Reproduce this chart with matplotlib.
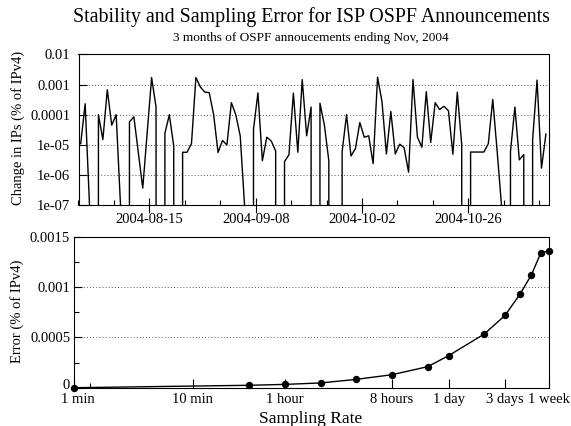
import numpy as np
import pandas as pd
import matplotlib
matplotlib.use('Agg')
import matplotlib.pyplot as plt
import matplotlib.dates as mdates
import matplotlib.transforms as mtransforms
from matplotlib.ticker import FixedLocator, NullFormatter, LogLocator

plt.rcParams['font.family'] = ['Liberation Serif', 'DejaVu Serif']

# -- top panel: daily change in announced IPs (% of IPv4), 0 = no change --
start_day = '2004-07-30 12:00'
n_days = 106
change = [
    1.1e-5, 2.3e-4, 9e-8, 0, 1e-4, 1.5e-5, 6.7e-4, 4.5e-5, 1e-4, 9e-8,
    0, 5.8e-5, 8.5e-5, 5.6e-6, 3.7e-7, 2.5e-5, 1.7e-3, 1.8e-4, 0, 2.4e-5,
    1e-4, 9e-6, 0, 5.7e-6, 5.7e-6, 1.1e-5, 1.7e-3, 8.3e-4, 5.6e-4, 5.4e-4,
    1e-4, 5.6e-6, 1.4e-5, 1e-5, 2.5e-4, 1e-4, 2e-5, 9e-8, 0, 3.3e-5,
    5.3e-4, 3e-6, 1.8e-5, 1.35e-5, 6.3e-6, 0, 2.8e-6, 4.7e-6, 5.2e-4, 5.7e-6,
    1.45e-3, 2e-5, 1.8e-4, 0, 2.4e-4, 4.5e-5, 3e-6, 0, 0, 5.9e-6,
    1e-4, 4.3e-6, 7.5e-6, 5.5e-5, 1.8e-5, 2e-5, 2.4e-6, 1.75e-3, 2.7e-4, 5e-6,
    1.28e-4, 5e-6, 1.06e-5, 8e-6, 1.25e-6, 1.45e-3, 1.8e-5, 8.4e-6, 5.8e-4, 1.2e-5,
    2.5e-4, 1.48e-4, 1.9e-4, 1.35e-4, 4.9e-6, 5.6e-4, 1e-5, 0, 5.8e-6, 5.8e-6,
    5.8e-6, 5.8e-6, 1.1e-5, 3.2e-4, 6e-6, 9e-8, 0, 6e-6, 1.8e-4, 3.2e-6,
    4.8e-6, 0, 1.5e-5, 1.4e-3, 1.7e-6, 2.3e-5,
]
date_ticks = ['2004-08-15', '2004-09-08', '2004-10-02', '2004-10-26']
top_yticks = [1e-7, 1e-6, 1e-5, 1e-4, 1e-3, 1e-2]
top_ylabels = ['1e-07', '1e-06', '1e-05', '0.0001', '0.001', '0.01']

# -- bottom panel: sampling error vs sampling rate (minutes) --
rate_min = [1, 30, 60, 120, 240, 480, 960, 1440, 2880, 4320, 5760, 7200, 8640, 10080]
error = [0, 2.4e-5, 3.3e-5, 4.7e-5, 8.3e-5, 1.29e-4, 2.09e-4, 3.18e-4, 5.33e-4,
         7.19e-4, 9.28e-4, 1.12e-3, 1.338e-3, 1.358e-3]
rate_ticks = [1, 10, 60, 480, 1440, 4320, 10080]
rate_labels = ['1 min', '10 min', '1 hour', '8 hours', '1 day', '3 days', '1 week']
err_ticks = [0, 0.0005, 0.001, 0.0015]
err_labels = ['0', '0.0005', '0.001', '0.0015']

W, H = 571, 426
fig = plt.figure(figsize=(W / 100, H / 100), dpi=100)


def box(l, t, r, b):
    return [l / W, 1 - b / H, (r - l) / W, (b - t) / H]


grid_kw = dict(color='0.35', linestyle=(0, (1, 2.2)), linewidth=0.7)

# ---- top panel ----
ax1 = fig.add_axes(box(78.5, 54.3, 548.5, 205.3))
dates = pd.date_range(start_day, periods=n_days, freq='D')
ax1.plot(dates, change, color='black', lw=1.0)
ax1.set_yscale('log', nonpositive='clip')
ax1.set_ylim(1e-7, 1e-2)
ax1.set_xlim(pd.Timestamp('2004-07-30 00:00'), pd.Timestamp('2004-11-13 02:00'))
ax1.set_yticks(top_yticks)
ax1.set_yticklabels(top_ylabels)
ax1.yaxis.set_minor_locator(LogLocator(base=10, subs=np.arange(2, 10)))
ax1.yaxis.set_minor_formatter(NullFormatter())
ax1.xaxis.set_major_locator(FixedLocator(mdates.date2num(pd.to_datetime(date_ticks))))
ax1.xaxis.set_major_formatter(mdates.DateFormatter('%Y-%m-%d'))
ax1.xaxis.set_minor_locator(FixedLocator(mdates.date2num(
    pd.date_range('2004-07-30', '2004-11-13', freq='8D'))))
ax1.tick_params(axis='x', which='major', direction='inout', length=10.8, width=0.8,
                labelsize=10.5, pad=0.5, top=False)
ax1.tick_params(axis='x', which='minor', direction='in', length=3.4, width=0.8, top=False)
ax1.tick_params(axis='y', which='major', direction='in', length=6, width=0.8,
                labelsize=10.5, pad=6, right=False)
ax1.tick_params(axis='y', which='minor', direction='in', length=3.2, width=0.6, right=False)
for yv in top_yticks[1:-1]:
    ax1.axhline(yv, **grid_kw, zorder=0)

# ---- bottom panel ----
ax2 = fig.add_axes(box(74.3, 236.7, 548.7, 387.7))
ax2.plot(rate_min, error, color='black', lw=1.0, marker='o', ms=4.3, clip_on=False, zorder=3)
ax2.set_xscale('log')
ax2.set_xlim(1, 10080)
ax2.set_ylim(0, 0.0015)
ax2.set_xticks(rate_ticks)
ax2.set_xticklabels(rate_labels)
ax2.xaxis.set_minor_locator(FixedLocator([1.35]))
ax2.xaxis.set_minor_formatter(NullFormatter())
ax2.set_yticks(err_ticks)
ax2.set_yticklabels(err_labels)
ax2.yaxis.set_minor_locator(FixedLocator([0.00025, 0.00075, 0.00125]))
ax2.tick_params(axis='x', which='major', direction='in', length=6.7, width=0.8,
                labelsize=10.5, pad=3.5, top=False)
ax2.tick_params(axis='x', which='minor', direction='in', length=3.4, width=0.8, top=False)
ax2.tick_params(axis='y', which='major', direction='in', length=6, width=0.8,
                labelsize=10.5, pad=3, right=False)
ax2.tick_params(axis='y', which='minor', direction='in', length=3.4, width=0.8, right=False)
for yv in err_ticks[1:-1]:
    ax2.axhline(yv, **grid_kw, zorder=0)

# nudge the corner labels apart the way the original has them
lab = ax2.get_xticklabels()[0]
lab.set_transform(lab.get_transform() + mtransforms.ScaledTranslation(4 / 100, 0, fig.dpi_scale_trans))
lab = ax2.get_yticklabels()[0]
lab.set_transform(lab.get_transform() + mtransforms.ScaledTranslation(0, 4 / 100, fig.dpi_scale_trans))

for ax in (ax1, ax2):
    for s in ax.spines.values():
        s.set_linewidth(0.8)

# ---- text ----
fig.text(311 / W, 1 - 17 / H, 'Stability and Sampling Error for ISP OSPF Announcements',
         ha='center', va='center', fontsize=14.3)
fig.text(311 / W, 1 - 38 / H, '3 months of OSPF annoucements ending Nov, 2004',
         ha='center', va='center', fontsize=9.5)
fig.text(18 / W, 1 - 128 / H, 'Change in IPs (% of IPv4)', rotation=90,
         ha='center', va='center', fontsize=10.5)
fig.text(17 / W, 1 - 311 / H, 'Error (% of IPv4)', rotation=90,
         ha='center', va='center', fontsize=10.5)
fig.text(311 / W, 1 - 419 / H, 'Sampling Rate', ha='center', va='center', fontsize=12.5)

fig.savefig('out.png', dpi=100)
